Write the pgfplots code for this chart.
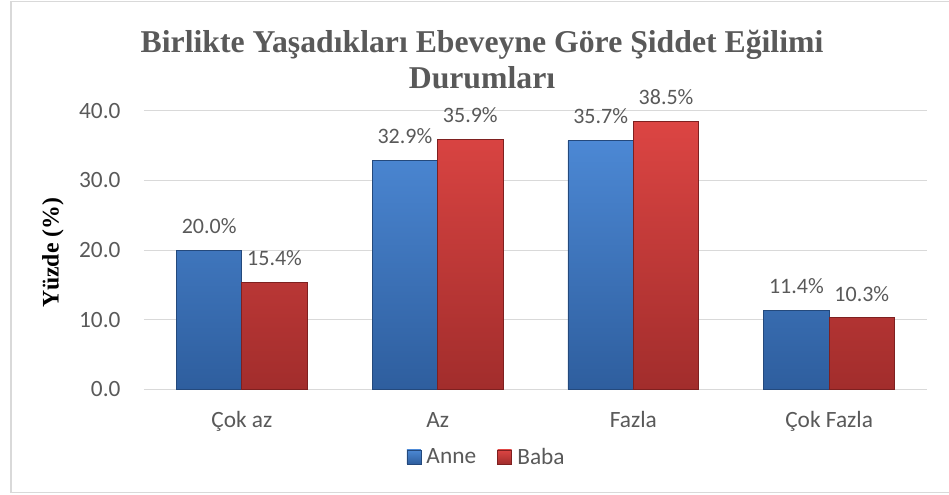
\documentclass[border=0pt]{standalone}
\usepackage{pgfplots}
\pgfplotsset{compat=1.18}
\usepackage{fontspec}
\setmainfont{Liberation Serif}
\newfontfamily\calibri{Carlito}
\definecolor{txt}{HTML}{595959}
\definecolor{gridc}{HTML}{D9D9D9}
\definecolor{bluetop}{HTML}{4C88D4}
\definecolor{bluebot}{HTML}{2E5E9E}
\definecolor{blueedge}{HTML}{24497C}
\definecolor{redtop}{HTML}{DC4543}
\definecolor{redbot}{HTML}{A22D2C}
\definecolor{rededge}{HTML}{7E2020}
\begin{document}
\begin{tikzpicture}[x=1pt,y=1pt]
\useasboundingbox (-108,-79.1) rectangle (603.75,292.1);
\draw[gridc, line width=1.1pt] (-99.75,-77.4) rectangle (615,290.8);
\begin{axis}[
  at={(0,0)}, anchor=south west,
  scale only axis, width=587.25pt, height=209.1pt,
  ymin=0, ymax=40, xmin=-0.5, xmax=3.5,
  ytick={0,10,20,30,40},
  xtick={0,1,2,3},
  xticklabels={Çok az, Az, Fazla, Çok Fazla},
  axis line style={draw=none},
  major tick length=0pt,
  ymajorgrids, grid style={gridc, line width=0.8pt},
  yticklabel style={font=\calibri\fontsize{17.5}{20}\selectfont, text=txt, anchor=east, inner sep=0pt, xshift=-17.4pt,
    /pgf/number format/.cd, fixed, fixed zerofill, precision=1, assume math mode=true},
  xticklabel style={font=\calibri\fontsize{17.5}{20}\selectfont, text=txt, anchor=base, inner sep=0pt, yshift=-28.9pt},
  ybar=0pt, bar width=0.334,
  nodes near coords={\pgfmathprintnumber[fixed,fixed zerofill,precision=1,assume math mode=true]{\pgfplotspointmeta}\%},
  nodes near coords style={font=\calibri\fontsize{16.5}{19}\selectfont, text=txt, anchor=base, inner sep=0pt, yshift=12.5pt},
  legend style={at={(0.438,-0.242)}, anchor=center, draw=none, fill=none,
    font=\calibri\fontsize{17.5}{20}\selectfont, text=txt, legend columns=2,
    /tikz/every odd column/.append style={column sep=2pt},
    /tikz/every even column/.append style={column sep=14pt}},
  legend image code/.code={\draw[#1, line width=0.4pt] (0pt,-5.25pt) rectangle (10.5pt,5.25pt);},
  clip=false,
]
\addplot[draw=blueedge, line width=0.6pt, top color=bluetop, bottom color=bluebot]
  coordinates {(0,20.0) (1,32.9) (2,35.7) (3,11.4)};
\addplot[draw=rededge, line width=0.6pt, top color=redtop, bottom color=redbot]
  coordinates {(0,15.4) (1,35.9) (2,38.5) (3,10.3)};
\legend{Anne, Baba}
\end{axis}
\node[anchor=base, font=\bfseries\fontsize{23.8}{26}\selectfont, text=txt, inner sep=0pt] at (253.5,252.4) {Birlikte Yaşadıkları Ebeveyne Göre Şiddet Eğilimi};
\node[anchor=base, font=\bfseries\fontsize{23.8}{26}\selectfont, text=txt, inner sep=0pt] at (253.5,225.4) {Durumları};
\node[rotate=90, font=\bfseries\fontsize{17.8}{20}\selectfont, text=black, inner sep=0pt] at (-68.25,102.4) {Yüzde (\%)};
\end{tikzpicture}
\end{document}
